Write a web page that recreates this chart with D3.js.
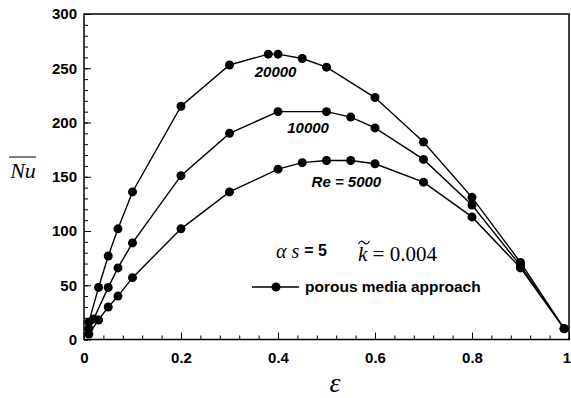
<!DOCTYPE html>
<html><head><meta charset="utf-8">
<script src="https://cdn.jsdelivr.net/npm/d3@7/dist/d3.min.js"></script>
<style>
html,body{margin:0;padding:0;background:#fff;}
svg{display:block;}
.tick text{font-family:Arial,"Liberation Sans",sans-serif;font-weight:bold;font-size:15px;fill:#000;}
</style></head>
<body>
<script>
// Data
const re20000X = [0.01,0.03,0.05,0.07,0.1,0.2,0.3,0.38,0.4,0.45,0.5,0.6,0.7,0.8,0.9,0.99];
const re20000Y = [16,48,77,102,136,215,253,263,263,259,251,223,182,131,71,10];
const re10000X = [0.01,0.02,0.05,0.07,0.1,0.2,0.3,0.4,0.5,0.55,0.6,0.7,0.8,0.9,0.99];
const re10000Y = [10,19,48,66,89,151,190,210,210,205,195,166,124,68,10];
const re5000X = [0.01,0.03,0.05,0.07,0.1,0.2,0.3,0.4,0.45,0.5,0.55,0.6,0.7,0.8,0.9,0.99];
const re5000Y = [5,18,30,40,57,102,136,157,163,165,165,162,145,113,66,10];
const xTicks = [0,0.2,0.4,0.6,0.8,1];
const xTickLabels = ["0","0.2","0.4","0.6","0.8","1"];
const yTicks = [0,50,100,150,200,250,300];
const seriesLabels = ["20000","10000","Re = 5000"];

const W = 571, H = 398;
const svg = d3.select("body").append("svg").attr("width",W).attr("height",H);
const x = d3.scaleLinear().domain([0,1]).range([84,569]);
const y = d3.scaleLinear().domain([0,300]).range([339.5,14]);

// frame
svg.append("rect").attr("x",x(0)).attr("y",y(300)).attr("width",x(1)-x(0)).attr("height",y(0)-y(300))
  .attr("fill","none").attr("stroke","#000").attr("stroke-width",1.5);

// minor ticks
const xMinor = d3.range(0,1.0001,0.04);
const yMinor = d3.range(0,300.001,10);
const gx = svg.append("g").attr("transform",`translate(0,${y(0)})`)
  .call(d3.axisBottom(x).tickValues(xMinor).tickSize(-4).tickFormat(""));
gx.select(".domain").remove();
const gx2 = svg.append("g").attr("transform",`translate(0,${y(0)})`)
  .call(d3.axisBottom(x).tickValues(xTicks).tickSize(-7).tickPadding(13).tickFormat((d,i)=>xTickLabels[i]));
gx2.select(".domain").remove();
gx2.selectAll(".tick text").filter(d=>d===1).attr("text-anchor","end").attr("x",W-x(1)-0.5);
const gy = svg.append("g").attr("transform",`translate(${x(0)},0)`)
  .call(d3.axisLeft(y).tickValues(yMinor).tickSize(-4).tickFormat(""));
gy.select(".domain").remove();
const gy2 = svg.append("g").attr("transform",`translate(${x(0)},0)`)
  .call(d3.axisLeft(y).tickValues(yTicks).tickSize(-7).tickPadding(7));
gy2.select(".domain").remove();
svg.selectAll(".tick line").attr("stroke","#000").attr("stroke-width",1);

// series
const series = [[re20000X,re20000Y],[re10000X,re10000Y],[re5000X,re5000Y]];
const line = d3.line().x(d=>x(d[0])).y(d=>y(d[1]));
series.forEach(([xs,ys])=>{
  const pts = xs.map((v,i)=>[v,ys[i]]);
  svg.append("path").datum(pts).attr("d",line).attr("fill","none").attr("stroke","#000").attr("stroke-width",1.4);
  svg.append("g").selectAll("circle").data(pts).join("circle")
    .attr("cx",d=>x(d[0])).attr("cy",d=>y(d[1])).attr("r",4.5).attr("fill","#000");
});

// series labels
const lab = svg.append("g").attr("font-family","Arial,'Liberation Sans',sans-serif")
  .attr("font-weight","bold").attr("font-style","italic").attr("font-size",15).attr("text-anchor","middle");
lab.append("text").attr("x",x(0.395)).attr("y",y(242)).text(seriesLabels[0]);
lab.append("text").attr("x",x(0.462)).attr("y",y(190)).text(seriesLabels[1]);
lab.append("text").attr("x",x(0.541)).attr("y",y(141)).text(seriesLabels[2]);

// axis titles
svg.append("text").attr("x",23).attr("y",178).attr("font-family","'Liberation Serif','Times New Roman',serif")
  .attr("font-style","italic").attr("font-size",22).attr("text-anchor","middle").text("Nu");
svg.append("line").attr("x1",9).attr("x2",36).attr("y1",157).attr("y2",157).attr("stroke","#000").attr("stroke-width",1);
svg.append("text").attr("x",335).attr("y",392).attr("font-family","'Liberation Serif','Times New Roman',serif")
  .attr("font-style","italic").attr("font-size",28).attr("text-anchor","middle").text("ε");

// annotation
const ann = svg.append("text").attr("x",276).attr("y",258);
ann.append("tspan").attr("font-family","'Liberation Serif','Times New Roman',serif").attr("font-style","italic").attr("font-size",20).text("α s ");
ann.append("tspan").attr("font-family","Arial,'Liberation Sans',sans-serif").attr("font-weight","bold").attr("font-size",16).attr("dy",-2).text("= 5");
const kt = svg.append("text").attr("x",358).attr("y",261).attr("font-family","'Liberation Serif','Times New Roman',serif").attr("font-size",21);
kt.append("tspan").attr("font-style","italic").text("k");
kt.append("tspan").text(" = 0.004");
// tilde over k
svg.append("path").attr("d","M358.5,244 C360,240.5 362,240.5 364,242.5 C366,244.5 368,244.5 369.5,241")
  .attr("fill","none").attr("stroke","#000").attr("stroke-width",1.1);

// legend
svg.append("line").attr("x1",252).attr("x2",299).attr("y1",287).attr("y2",287).attr("stroke","#000").attr("stroke-width",1.4);
svg.append("circle").attr("cx",276).attr("cy",287).attr("r",4.5).attr("fill","#000");
svg.append("text").attr("x",305).attr("y",292).attr("font-family","Arial,'Liberation Sans',sans-serif").attr("font-weight","bold").attr("font-size",15.5).text("porous media approach");
</script>
</body></html>
